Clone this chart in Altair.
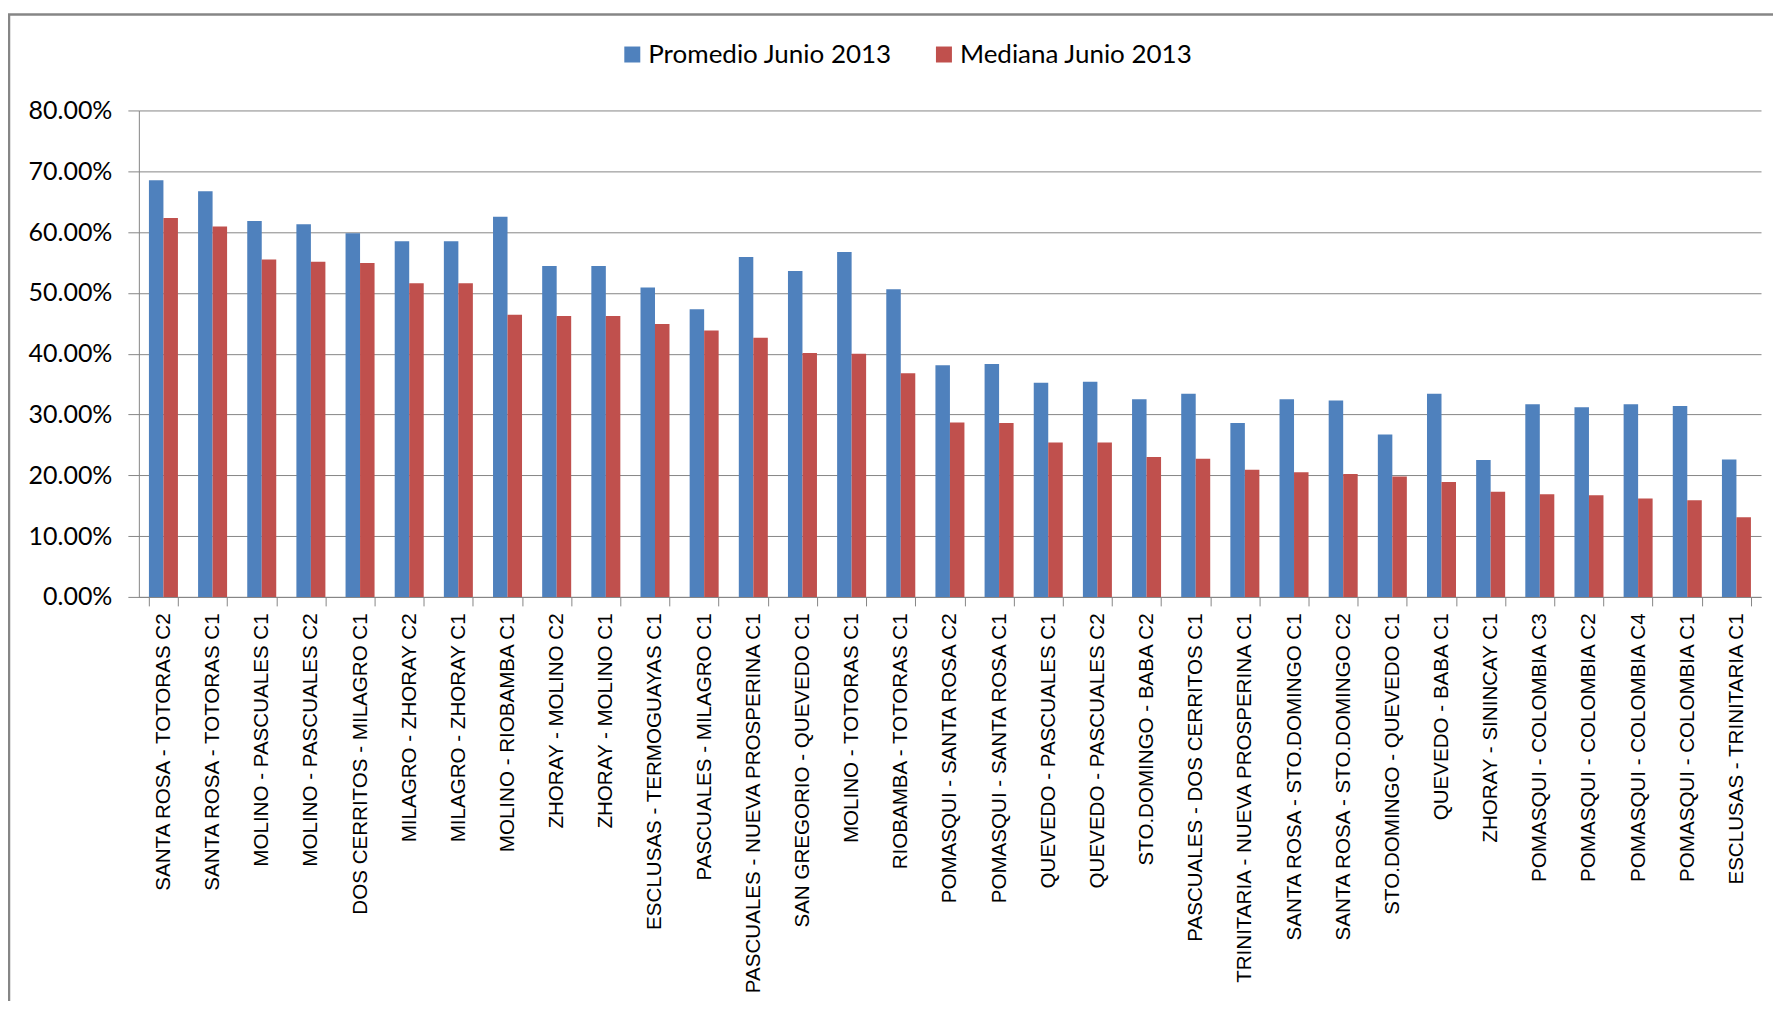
import altair as alt
import pandas as pd

categories = [
    "SANTA ROSA  - TOTORAS C2", "SANTA ROSA  - TOTORAS C1", "MOLINO - PASCUALES C1",
    "MOLINO - PASCUALES C2", "DOS CERRITOS - MILAGRO C1", "MILAGRO - ZHORAY C2",
    "MILAGRO - ZHORAY C1", "MOLINO - RIOBAMBA C1", "ZHORAY - MOLINO C2",
    "ZHORAY - MOLINO C1", "ESCLUSAS - TERMOGUAYAS C1", "PASCUALES - MILAGRO C1",
    "PASCUALES - NUEVA PROSPERINA C1", "SAN GREGORIO - QUEVEDO C1", "MOLINO - TOTORAS C1",
    "RIOBAMBA - TOTORAS C1", "POMASQUI  - SANTA ROSA C2", "POMASQUI  - SANTA ROSA C1",
    "QUEVEDO - PASCUALES C1", "QUEVEDO - PASCUALES C2", "STO.DOMINGO - BABA C2",
    "PASCUALES - DOS CERRITOS C1", "TRINITARIA - NUEVA PROSPERINA C1", "SANTA ROSA  - STO.DOMINGO C1",
    "SANTA ROSA  - STO.DOMINGO C2", "STO.DOMINGO - QUEVEDO C1", "QUEVEDO - BABA C1",
    "ZHORAY - SININCAY C1", "POMASQUI  - COLOMBIA C3", "POMASQUI  - COLOMBIA C2",
    "POMASQUI  - COLOMBIA C4", "POMASQUI  - COLOMBIA C1", "ESCLUSAS - TRINITARIA C1",
]
promedio = [68.5, 66.7, 61.8, 61.3, 59.8, 58.5, 58.5, 62.5, 54.4, 54.4, 50.9, 47.3,
            55.9, 53.6, 56.7, 50.6, 38.1, 38.3, 35.2, 35.4, 32.5, 33.4, 28.6, 32.5,
            32.3, 26.7, 33.4, 22.5, 31.7, 31.2, 31.7, 31.4, 22.6]
mediana = [62.3, 60.9, 55.5, 55.1, 54.9, 51.6, 51.6, 46.4, 46.2, 46.2, 44.9, 43.8,
           42.6, 40.1, 40.0, 36.8, 28.7, 28.6, 25.4, 25.4, 23.0, 22.7, 20.9, 20.5,
           20.2, 19.8, 18.9, 17.3, 16.9, 16.7, 16.2, 15.9, 13.1]
series = ["Promedio Junio 2013", "Mediana Junio 2013"]
colors = ["#4F81BD", "#C0504D"]
y_ticks = [0.0, 0.1, 0.2, 0.3, 0.4, 0.5, 0.6, 0.7, 0.8]

rows = []
for c, p, m in zip(categories, promedio, mediana):
    rows.append({"tramo": c, "serie": series[0], "valor": p / 100})
    rows.append({"tramo": c, "serie": series[1], "valor": m / 100})
df = pd.DataFrame(rows)

GRAY = "#868686"

bars = alt.Chart(df).mark_bar().encode(
    x=alt.X(
        "tramo:N", sort=categories, title=None,
        scale=alt.Scale(paddingInner=0.41, paddingOuter=0.205),
        axis=alt.Axis(
            labelAngle=-90, labelFont="Liberation Sans", labelFontSize=20.6,
            labelColor="#000000", tickBand="extent", tickSize=9, tickColor=GRAY,
            domainColor=GRAY, labelPadding=7, grid=False, labelLimit=600,
        ),
    ),
    xOffset=alt.XOffset("serie:N", sort=series),
    y=alt.Y(
        "valor:Q", title=None,
        scale=alt.Scale(domain=[0, 0.8], nice=False),
        axis=alt.Axis(
            values=y_ticks, format=".2%", labelFont="Lato", labelFontSize=25,
            labelColor="#000000", tickSize=11, tickColor=GRAY, domainColor=GRAY,
            gridColor=GRAY, gridWidth=1, labelPadding=16,
        ),
    ),
    color=alt.Color(
        "serie:N", sort=series,
        scale=alt.Scale(domain=series, range=colors),
        legend=alt.Legend(
            title=None, orient="none", legendX=481, legendY=-69,
            direction="horizontal", symbolType="square", symbolSize=256,
            symbolStrokeWidth=0, labelFont="Lato", labelFontSize=26,
            labelColor="#000000", labelOffset=3, columnPadding=39, padding=0,
            labelLimit=500,
        ),
    ),
)

frame = alt.Chart(pd.DataFrame({"k": [0]})).mark_rect(
    fill="transparent", stroke=GRAY, strokeWidth=2.5
).encode(
    x=alt.value(-130), x2=alt.value(1700), y=alt.value(-96), y2=alt.value(1000)
)

chart = alt.layer(frame, bars).properties(
    width=1624, height=487,
    autosize=alt.AutoSizeParams(type="none"),
    padding={"left": 131, "top": 102, "right": 12, "bottom": 404},
    background="white",
).configure_view(strokeWidth=0)

chart.save("out.html", embed_options={"renderer": "svg", "actions": False})
